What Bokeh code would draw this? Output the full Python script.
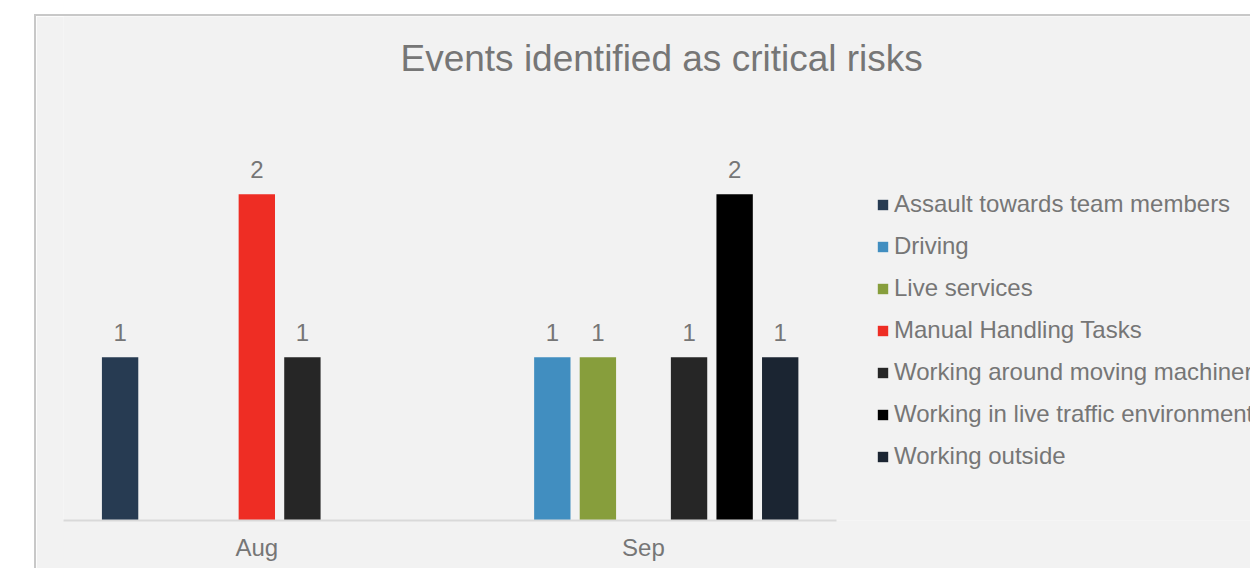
from bokeh.plotting import figure
from bokeh.models import Range1d, FixedTicker, Legend, LegendItem, ColumnDataSource, Spacer, Label
from bokeh.layouts import column, row
from bokeh.transform import dodge
from bokeh.core.properties import value
from bokeh.embed import file_html
from bokeh.resources import INLINE

# ---- data ----
title_text = "Events identified as critical risks"
months = ["Aug", "Sep"]
series = [
    "Assault towards team members",
    "Driving",
    "Live services",
    "Manual Handling Tasks",
    "Working around moving machinery",
    "Working in live traffic environment",
    "Working outside",
]
assault = [1, 0]
driving = [0, 1]
live_services = [0, 1]
manual_handling = [2, 0]
moving_machinery = [1, 1]
live_traffic = [0, 2]
working_outside = [0, 1]
values = [assault, driving, live_services, manual_handling,
          moving_machinery, live_traffic, working_outside]
colors = ["#273b52", "#418ec0", "#879e3c", "#ee2d24", "#262626", "#000000", "#1b2532"]

TEXT = "#767676"
FONT = "Liberation Sans"
BG = "#f2f2f2"

# ---- layout constants (pixels) ----
W, H = 1216, 554
BORDER = 2
LEFT = 27
BOTTOM = 50
GROUP_PX = 386.0
UNIT_PX = 162.5
frame_w = W - BORDER - LEFT
frame_h = H - BORDER - BOTTOM
x_end = -0.5 + frame_w / GROUP_PX
y_end = frame_h / UNIT_PX

p = figure(width=W, height=H, output_backend="svg", toolbar_location=None,
           x_range=Range1d(-0.5, x_end), y_range=Range1d(0, y_end),
           y_axis_location=None, min_border_left=LEFT, min_border_right=0,
           min_border_top=0, min_border_bottom=BOTTOM)
p.styles = {"border-left": "2px solid #c8c8c8", "border-top": "2px solid #c8c8c8"}
p.background_fill_color = BG
p.border_fill_color = BG
p.outline_line_color = None
p.grid.visible = False

title = Label(x=337, y=462, x_units="screen", y_units="screen", text=title_text,
              text_font=FONT, text_font_size="37px", text_color=TEXT,
              text_align="left", text_baseline="alphabetic")
p.add_layout(title)

slot = 45.5 / GROUP_PX
bar_w = 36.3 / GROUP_PX
items = []
for k, (name, vals, col) in enumerate(zip(series, values, colors)):
    xs = [i for i, v in enumerate(vals) if v != 0]
    ys = [v for v in vals if v != 0]
    src = ColumnDataSource(dict(x=xs, top=ys, lab=[str(v) for v in ys]))
    off = (k - 3) * slot
    r = p.vbar(x=dodge("x", off), top="top", width=bar_w, source=src,
               fill_color=col, line_color=None)
    p.text(x=dodge("x", off), y="top", text="lab", source=src,
           text_font=value(FONT), text_font_size="24px", text_color=TEXT,
           text_align="center", text_baseline="alphabetic", y_offset=-25)
    items.append(LegendItem(label=name, renderers=[r]))

legend = Legend(items=items, location=(813, 50), orientation="vertical",
                glyph_width=13, glyph_height=13, label_standoff=5,
                label_height=24, spacing=14, padding=0, margin=0,
                label_text_font=FONT, label_text_font_size="24px",
                label_text_color=TEXT, background_fill_alpha=0,
                border_line_color=None)
p.add_layout(legend, "center")

ax = p.xaxis[0]
ax.ticker = FixedTicker(ticks=[0, 1])
ax.major_label_overrides = {0: months[0], 1: months[1]}
ax.bounds = (-0.5, 1.5)
ax.axis_line_color = "#d9d9d9"
ax.axis_line_width = 2
ax.major_tick_line_color = None
ax.minor_tick_line_color = None
ax.major_tick_out = 0
ax.major_label_standoff = 13
ax.major_label_text_font = FONT
ax.major_label_text_font_size = "24px"
ax.major_label_text_color = TEXT

layout = column(Spacer(height=14), row(Spacer(width=34), p))
open("out.html", "w").write(file_html(layout, INLINE))
